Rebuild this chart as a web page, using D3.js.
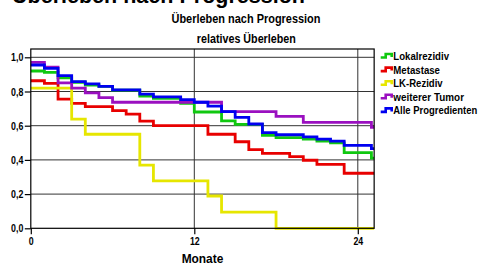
<!DOCTYPE html>
<html><head><meta charset="utf-8">
<script src="https://cdn.jsdelivr.net/npm/d3@7"></script>
<style>body{margin:0;background:#fff}svg{display:block}</style>
</head><body>
<svg id="c" width="478" height="267"></svg>
<script>
// ---- data ----
const seriesNames = ["Lokalrezidiv", "Metastase", "LK-Rezidiv", "weiterer Tumor", "Alle Progredienten"];
const lokalrezidivMonths = [0,1,2,3,4,5,6,8,9,11,12,14,15,17,18,20,21,22,23,25];
const lokalrezidivValues = [0.92,0.912,0.88,0.854,0.838,0.83,0.808,0.773,0.76,0.73,0.68,0.628,0.608,0.543,0.53,0.522,0.51,0.5,0.442,0.41];
const metastaseMonths = [0,1,2,3,4,6,7,8,9,13,15,16,17,19,20,21,23];
const metastaseValues = [0.863,0.848,0.755,0.73,0.711,0.688,0.668,0.627,0.6,0.55,0.506,0.46,0.438,0.419,0.398,0.374,0.322];
const lkRezidivMonths = [0,3,4,8,9,13,14,18];
const lkRezidivValues = [0.82,0.639,0.55,0.37,0.277,0.189,0.095,0];
const weitererTumorMonths = [0,1,2,3,4,5,6,14,18,20,25];
const weitererTumorValues = [0.97,0.943,0.85,0.82,0.792,0.764,0.737,0.682,0.655,0.62,0.59];
const alleMonths = [0,1,2,3,4,5,6,8,9,11,12,13,14,15,16,17,18,20,21,22,23,25];
const alleValues = [0.955,0.935,0.893,0.858,0.845,0.83,0.81,0.785,0.768,0.752,0.737,0.715,0.682,0.649,0.61,0.56,0.547,0.535,0.521,0.51,0.485,0.466];
const followUpEnd = 25.2;
const xTicks = [0, 12, 24];
const yTicks = [0, 0.2, 0.4, 0.6, 0.8, 1.0];
const yTickLabels = ["0,0", "0,2", "0,4", "0,6", "0,8", "1,0"];
const pageTitle = "Überleben nach Progression";
const chartTitle = "Überleben nach Progression";
const chartSubtitle = "relatives Überleben";
const xAxisLabel = "Monate";

// ---- styles ----
const colors = ["#10c810", "#e80000", "#e6e600", "#9a10c0", "#0000f0"];
const font = "'Liberation Sans', Arial, sans-serif";

const series = [
  [lokalrezidivMonths, lokalrezidivValues],
  [metastaseMonths, metastaseValues],
  [lkRezidivMonths, lkRezidivValues],
  [weitererTumorMonths, weitererTumorValues],
  [alleMonths, alleValues]
].map(([t, v], i) => {
  const pts = t.map((m, j) => ({m, v: v[j]}));
  pts.push({m: followUpEnd, v: v[v.length - 1]});
  return {name: seriesNames[i], color: colors[i], pts};
});

const svg = d3.select("#c");
const x = d3.scaleLinear().domain([0, 24]).range([30.8, 357.8]);
const y = d3.scaleLinear().domain([0, 1]).range([228.3, 57.3]);
const frameTop = 49;
const x0 = x(0), x1 = x(followUpEnd), yb = y(0);

function narrowText(sel, factor) {
  sel.each(function() {
    const w = this.getComputedTextLength();
    d3.select(this).attr("textLength", w * factor).attr("lengthAdjust", "spacingAndGlyphs");
  });
}

// titles
svg.append("text").attr("x", 12).attr("y", 3).attr("font-family", font).attr("font-weight", "bold")
  .attr("font-size", 21.5).attr("textLength", 293).attr("lengthAdjust", "spacingAndGlyphs").text(pageTitle);
svg.append("text").attr("x", 246).attr("y", 23.3).attr("text-anchor", "middle").attr("font-family", font)
  .attr("font-weight", "bold").attr("font-size", 13).attr("textLength", 149).attr("lengthAdjust", "spacingAndGlyphs").text(chartTitle);
svg.append("text").attr("x", 246.3).attr("y", 43.3).attr("text-anchor", "middle").attr("font-family", font)
  .attr("font-weight", "bold").attr("font-size", 13).attr("textLength", 99).attr("lengthAdjust", "spacingAndGlyphs").text(chartSubtitle);

// grid
const g = svg.append("g");
g.selectAll(".hg").data(yTicks.slice(1)).join("line")
  .attr("x1", x0).attr("x2", x1).attr("y1", d => y(d)).attr("y2", d => y(d))
  .attr("stroke", "#333").attr("stroke-width", 1);
g.selectAll(".vg").data(xTicks.slice(1)).join("line")
  .attr("x1", d => x(d)).attr("x2", d => x(d)).attr("y1", frameTop).attr("y2", yb)
  .attr("stroke", "#333").attr("stroke-width", 1);

// curves
const line = d3.line().x(d => x(d.m)).y(d => y(d.v)).curve(d3.curveStepAfter);
svg.append("g").selectAll("path").data(series).join("path")
  .attr("d", d => line(d.pts)).attr("fill", "none").attr("stroke", d => d.color)
  .attr("stroke-width", 2.8).attr("stroke-linejoin", "miter").attr("stroke-linecap", "butt");

// frame
svg.append("rect").attr("x", x0).attr("y", frameTop).attr("width", x1 - x0).attr("height", yb - frameTop)
  .attr("fill", "none").attr("stroke", "#000").attr("stroke-width", 1.2);

// y axis ticks
const yAx = svg.append("g").attr("transform", `translate(${x0},0)`)
  .call(d3.axisLeft(y).tickValues(yTicks).tickFormat((d, i) => yTickLabels[i]).tickSize(6).tickPadding(1.5));
yAx.select(".domain").remove();
yAx.selectAll("line").attr("stroke", "#000").attr("stroke-width", 1.2);
yAx.selectAll("text").attr("font-family", font).attr("font-weight", "bold").attr("font-size", 11).attr("fill", "#000").call(narrowText, 0.8);

// x axis ticks
const xAx = svg.append("g").attr("transform", `translate(0,${yb})`)
  .call(d3.axisBottom(x).tickValues(xTicks).tickFormat(d3.format("d")).tickSize(6).tickPadding(3));
xAx.select(".domain").remove();
xAx.selectAll("line").attr("stroke", "#000").attr("stroke-width", 1.2);
xAx.selectAll("text").attr("font-family", font).attr("font-weight", "bold").attr("font-size", 11).attr("fill", "#000").call(narrowText, 0.8);

svg.append("text").attr("x", 202.5).attr("y", 263).attr("text-anchor", "middle").attr("font-family", font)
  .attr("font-weight", "bold").attr("font-size", 12).attr("textLength", 41.7).attr("lengthAdjust", "spacingAndGlyphs").text(xAxisLabel);

// legend
const legendWidths = [55.7, 46.7, 49.3, 70.7, 84];
const leg = svg.append("g").selectAll("g").data(series).join("g")
  .attr("transform", (d, i) => `translate(380.7,${56 + i * 13.6})`);
leg.append("path").attr("d", "M0,1.5H5V-2H11V1").attr("fill", "none").attr("stroke", d => d.color).attr("stroke-width", 2.6);
leg.append("text").attr("x", 12.6).attr("y", 4).attr("font-family", font).attr("font-weight", "bold").attr("font-size", 11)
  .attr("textLength", (d, i) => legendWidths[i]).attr("lengthAdjust", "spacingAndGlyphs").text(d => d.name);
</script>
</body></html>
